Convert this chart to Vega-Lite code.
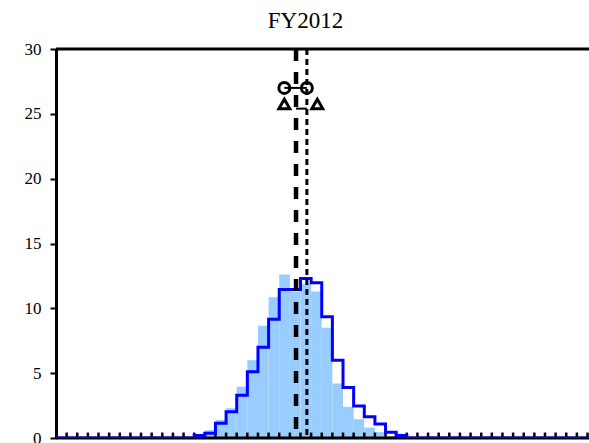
{
  "$schema": "https://vega.github.io/schema/vega-lite/v6.json",
  "width": 533,
  "height": 389,
  "autosize": {"type": "none"},
  "padding": {"left": 56, "top": 49, "right": 0, "bottom": 5},
  "background": "white",
  "title": {"text": "FY2012", "font": "Liberation Serif", "fontSize": 23, "fontWeight": "normal", "color": "black", "anchor": "middle", "dx": -17, "offset": 7},
  "config": {"view": {"stroke": null}},
  "datasets": {
    "bins": [
      {"start": 0, "end": 1, "fill": 0, "line": 0},
      {"start": 1, "end": 2, "fill": 0, "line": 0},
      {"start": 2, "end": 3, "fill": 0, "line": 0},
      {"start": 3, "end": 4, "fill": 0, "line": 0},
      {"start": 4, "end": 5, "fill": 0, "line": 0},
      {"start": 5, "end": 6, "fill": 0, "line": 0},
      {"start": 6, "end": 7, "fill": 0, "line": 0},
      {"start": 7, "end": 8, "fill": 0, "line": 0},
      {"start": 8, "end": 9, "fill": 0, "line": 0},
      {"start": 9, "end": 10, "fill": 0, "line": 0},
      {"start": 10, "end": 11, "fill": 0, "line": 0},
      {"start": 11, "end": 12, "fill": 0, "line": 0},
      {"start": 12, "end": 13, "fill": 0, "line": 0},
      {"start": 13, "end": 14, "fill": 0.1, "line": 0.2},
      {"start": 14, "end": 15, "fill": 0.6, "line": 0.36},
      {"start": 15, "end": 16, "fill": 1.4, "line": 1.13},
      {"start": 16, "end": 17, "fill": 2.3, "line": 2.03},
      {"start": 17, "end": 18, "fill": 3.96, "line": 3.3},
      {"start": 18, "end": 19, "fill": 6.0, "line": 5.1},
      {"start": 19, "end": 20, "fill": 8.66, "line": 7.0},
      {"start": 20, "end": 21, "fill": 10.85, "line": 9.15},
      {"start": 21, "end": 22, "fill": 12.6, "line": 11.45},
      {"start": 22, "end": 23, "fill": 11.3, "line": 11.45},
      {"start": 23, "end": 24, "fill": 11.9, "line": 12.3},
      {"start": 24, "end": 25, "fill": 11.3, "line": 11.97},
      {"start": 25, "end": 26, "fill": 8.5, "line": 9.35},
      {"start": 26, "end": 27, "fill": 4.2, "line": 6.0},
      {"start": 27, "end": 28, "fill": 2.4, "line": 3.9},
      {"start": 28, "end": 29, "fill": 1.45, "line": 2.47},
      {"start": 29, "end": 30, "fill": 0.8, "line": 1.64},
      {"start": 30, "end": 31, "fill": 0.45, "line": 1.08},
      {"start": 31, "end": 32, "fill": 0.15, "line": 0.45},
      {"start": 32, "end": 33, "fill": 0, "line": 0.2},
      {"start": 33, "end": 34, "fill": 0, "line": 0},
      {"start": 34, "end": 35, "fill": 0, "line": 0},
      {"start": 35, "end": 36, "fill": 0, "line": 0},
      {"start": 36, "end": 37, "fill": 0, "line": 0},
      {"start": 37, "end": 38, "fill": 0, "line": 0},
      {"start": 38, "end": 39, "fill": 0, "line": 0},
      {"start": 39, "end": 40, "fill": 0, "line": 0},
      {"start": 40, "end": 41, "fill": 0, "line": 0},
      {"start": 41, "end": 42, "fill": 0, "line": 0},
      {"start": 42, "end": 43, "fill": 0, "line": 0},
      {"start": 43, "end": 44, "fill": 0, "line": 0},
      {"start": 44, "end": 45, "fill": 0, "line": 0},
      {"start": 45, "end": 46, "fill": 0, "line": 0},
      {"start": 46, "end": 47, "fill": 0, "line": 0},
      {"start": 47, "end": 48, "fill": 0, "line": 0},
      {"start": 48, "end": 49, "fill": 0, "line": 0},
      {"start": 49, "end": 50, "fill": 0, "line": 0},
      {"start": 50, "end": 51, "fill": 0, "line": 0},
      {"start": 51, "end": 52, "fill": 0, "line": 0}
    ],
    "frame": [
      {"y": 0},
      {"y": 30}
    ],
    "refs": [
      {"name": "thick", "x": 22.58},
      {"name": "thin", "x": 23.6}
    ],
    "markers": [
      {"shape": "circle", "x": 21.48, "y": 27.0},
      {"shape": "circle", "x": 23.6, "y": 27.0},
      {"shape": "triangle-up", "x": 21.48, "y": 25.75},
      {"shape": "triangle-up", "x": 24.58, "y": 25.75}
    ],
    "links": [
      {"x": 21.48, "x2": 23.6, "y": 27.0},
      {"x": 22.58, "x2": 23.6, "y": 25.4}
    ]
  },
  "layer": [
    {
      "data": {"name": "bins"},
      "mark": {"type": "rect", "color": "#99ccff", "clip": true},
      "encoding": {
        "x": {"field": "start", "type": "quantitative", "title": null,
              "scale": {"domain": [0, 50.14], "nice": false, "zero": false},
              "axis": null},
        "x2": {"field": "end"},
        "y": {"field": "fill", "type": "quantitative", "title": null,
              "scale": {"domain": [0, 30], "nice": false},
              "axis": {"values": [0, 5, 10, 15, 20, 25, 30], "grid": false, "labelFont": "Liberation Serif", "labelFontSize": 17, "labelColor": "black",
                       "tickColor": "black", "tickWidth": 2, "tickSize": 6, "domainColor": "black", "domainWidth": 3, "labelPadding": 9}},
        "y2": {"datum": 0}
      }
    },
    {
      "data": {"name": "frame"},
      "mark": {"type": "rule", "color": "black", "strokeWidth": 3},
      "encoding": {"y": {"field": "y", "type": "quantitative", "title": null}}
    },
    {
      "data": {"name": "bins"},
      "transform": [{"filter": "datum.start >= 1 && datum.start <= 50"}],
      "mark": {"type": "rule", "color": "black", "strokeWidth": 2.5},
      "encoding": {
        "x": {"field": "start", "type": "quantitative", "title": null},
        "y": {"datum": 0},
        "y2": {"datum": 0.42}
      }
    },
    {
      "data": {"name": "bins"},
      "mark": {"type": "line", "interpolate": "step-after", "color": "#0000ff", "strokeWidth": 3, "clip": true},
      "encoding": {
        "x": {"field": "start", "type": "quantitative", "title": null},
        "y": {"field": "line", "type": "quantitative", "title": null}
      }
    },
    {
      "data": {"name": "refs"},
      "transform": [{"filter": "datum.name == 'thick'"}],
      "mark": {"type": "rule", "color": "black", "strokeWidth": 4.5, "strokeDash": [12, 11]},
      "encoding": {"x": {"field": "x", "type": "quantitative", "title": null}}
    },
    {
      "data": {"name": "refs"},
      "transform": [{"filter": "datum.name == 'thin'"}],
      "mark": {"type": "rule", "color": "black", "strokeWidth": 3, "strokeDash": [6, 4]},
      "encoding": {"x": {"field": "x", "type": "quantitative", "title": null}}
    },
    {
      "data": {"name": "links"},
      "mark": {"type": "rule", "color": "black", "strokeWidth": 2},
      "encoding": {
        "x": {"field": "x", "type": "quantitative", "title": null},
        "x2": {"field": "x2"},
        "y": {"field": "y", "type": "quantitative", "title": null}
      }
    },
    {
      "data": {"name": "markers"},
      "mark": {"type": "point", "filled": false, "stroke": "black", "strokeWidth": 3, "opacity": 1},
      "encoding": {
        "x": {"field": "x", "type": "quantitative", "title": null},
        "y": {"field": "y", "type": "quantitative", "title": null},
        "shape": {"field": "shape", "type": "nominal", "scale": null, "legend": null},
        "size": {"value": 120}
      }
    }
  ]
}
